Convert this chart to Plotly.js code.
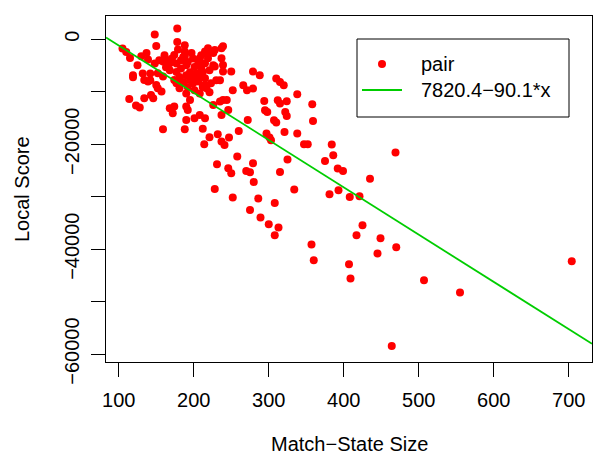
<!DOCTYPE html>
<html><head><meta charset="utf-8">
<script src="https://cdn.plot.ly/plotly-3.0.1.min.js"></script>
<style>html,body{margin:0;padding:0;background:#fff}#chart{width:600px;height:463px}</style>
</head><body><div id="chart"></div>
<script>
const matchStateSize = [178,148,178,188,150,179,105,110,115,130,137,139,125,119,119,132,142,142,148,154,161,166,159,168,174,188,188,215,219,228,237,239,208,219,237,228,239,239,250,210,279,288,210,217,226,226,230,235,252,266,279,
134,139,150,152,157,143,134,146,114,123,128,174,177,195,199,206,215,223,215,217,271,195,190,192,168,174,172,226,235,239,244,237,246,190,201,208,215,272,159,188,212,221,232,237,241,247,214,260,258,231,246,250,270,275,279,280,228,252,275,
310,315,320,338,294,295,298,312,315,324,322,324,358,359,307,310,321,338,297,301,303,347,352,384,386,375,325,315,392,399,435,334,286,308,381,393,408,421,289,300,313,308,425,417,449,445,470,357,360,407,409,507,555,464,704,469,
168,177,177,183,186,190,192,199,201,206,183,195,203,212,190,208,199,181,186,192,201,208,215,221,197,171,212,221,181,190,152,159,163];
const localScore = [2040,900,-510,-1140,-1280,-1960,-1770,-2420,-3560,-3240,-2610,-3870,-4950,-6860,-7240,-6530,-6530,-7810,-4630,-4000,-3050,-4000,-4250,-4570,-2990,-2340,-3300,-2340,-1710,-2040,-1710,-1330,-3620,-3620,-3620,-5200,-4900,-6150,-6150,-5520,-6150,-6860,-3050,-2720,-2610,-4950,-7810,-7810,-9720,-8760,-9390,
-7750,-8060,-8700,-9330,-9960,-10610,-11240,-11240,-11370,-12630,-13010,-7750,-8380,-7750,-8380,-8060,-7430,-8380,-8700,-9330,-9720,-11560,-12820,-13470,-13140,-12820,-14100,-12520,-11870,-11560,-11560,-14420,-13470,-15370,-15050,-14420,-15050,-15370,-17150,-17150,-17050,-18670,-18100,-19490,-20140,-18730,-20000,-17470,-22350,-23810,-24570,-25530,-25090,-25340,-23620,-27180,-28520,-30160,-32520,
-7490,-8130,-8760,-10480,-11750,-13530,-13850,-11620,-12250,-11810,-13850,-14610,-12380,-15560,-15430,-15870,-17660,-17960,-17960,-18730,-19240,-20000,-20000,-20060,-22100,-23180,-22920,-25280,-24630,-25090,-26570,-28630,-30350,-31180,-29530,-28770,-30040,-29910,-33970,-35240,-35870,-37340,-35430,-37340,-37910,-40820,-39620,-39110,-42100,-42860,-45590,-45910,-48250,-58430,-42290,-21580,
-5900,-6230,-4630,-4000,-3370,-4950,-4320,-3680,-5280,-4630,-5580,-6290,-6530,-6230,-6860,-7180,-7490,-7180,-8130,-9090,-9720,-10350,-4570,-5900,-2610,-3680,-9090,-10100,-9330,-10350,-6480,-7110,-5330];

const fitIntercept = 7820.4;
const fitSlope = -90.1;
const xTickVals = [100,200,300,400,500,600,700];
const yTickVals = [0,-10000,-20000,-30000,-40000,-50000,-60000];
const yTickText = ['0','','\u221220000','','\u221240000','','\u221260000'];
const legendLabels = ['pair','7820.4\u221290.1*x'];
const xTitle = 'Match\u2212State Size';
const yTitle = 'Local Score';
const xRange = [83, 731];
const yRange = [-61500, 4440];

const FONT = 'Liberation Sans, Arial, Helvetica, sans-serif';
const RED = '#FF0000', GREEN = '#00CD00';

const pts = {
  x: matchStateSize, y: localScore, type: 'scatter', mode: 'markers',
  marker: {color: RED, size: 8, line: {width: 0}}, name: legendLabels[0], hoverinfo: 'skip'
};
const fit = {
  x: xRange, y: xRange.map(v => fitIntercept + fitSlope * v), type: 'scatter', mode: 'lines',
  line: {color: GREEN, width: 1.8}, name: legendLabels[1], hoverinfo: 'skip'
};

const L = 106, R = 592, T = 16, B = 362;
const px = v => (v - L) / (R - L);
const py = v => (B - v) / (B - T);

const layout = {
  width: 600, height: 463,
  margin: {l: L, r: 600 - R, t: T, b: 463 - B},
  paper_bgcolor: '#fff', plot_bgcolor: '#fff',
  showlegend: false,
  font: {family: FONT, size: 20, color: '#000'},
  xaxis: {
    range: xRange, tickvals: xTickVals, ticks: 'outside', ticklen: 14, tickwidth: 1, tickcolor: '#000',
    showline: true, linecolor: '#000', linewidth: 1, mirror: true, showgrid: false, zeroline: false,
    tickfont: {family: FONT, size: 20, color: '#000'}, ticklabelstandoff: 6
  },
  yaxis: {
    range: yRange, tickvals: yTickVals, ticktext: yTickText, ticks: 'outside', ticklen: 14, tickwidth: 1, tickcolor: '#000',
    showline: true, linecolor: '#000', linewidth: 1, mirror: true, showgrid: false, zeroline: false,
    tickangle: -90, tickfont: {family: FONT, size: 20, color: '#000'}, ticklabelstandoff: 4
  },
  shapes: [
    {type: 'rect', xref: 'paper', yref: 'paper', x0: px(357), x1: px(569), y0: py(117), y1: py(39),
     line: {color: '#000', width: 1}, fillcolor: 'rgba(0,0,0,0)'},
    {type: 'line', xref: 'paper', yref: 'paper', x0: px(362), x1: px(402), y0: py(90), y1: py(90),
     line: {color: GREEN, width: 1.8}},
    {type: 'circle', xref: 'paper', yref: 'paper', xsizemode: 'pixel', ysizemode: 'pixel',
     xanchor: px(382), yanchor: py(64), x0: -4, x1: 4, y0: -4, y1: 4,
     fillcolor: RED, line: {width: 0}}
  ],
  annotations: [
    {xref: 'paper', yref: 'paper', x: px(419), y: py(64), xanchor: 'left', yanchor: 'middle',
     text: legendLabels[0], showarrow: false, font: {family: FONT, size: 20, color: '#000'}},
    {xref: 'paper', yref: 'paper', x: px(419), y: py(90), xanchor: 'left', yanchor: 'middle',
     text: legendLabels[1], showarrow: false, font: {family: FONT, size: 20, color: '#000'}},
    {xref: 'paper', yref: 'paper', x: 0.5, y: 0, yanchor: 'middle', xanchor: 'center', yshift: -82,
     text: xTitle, showarrow: false, font: {family: FONT, size: 20, color: '#000'}},
    {xref: 'paper', yref: 'paper', x: 0, y: 0.5, xanchor: 'center', yanchor: 'middle', xshift: -84,
     textangle: -90, text: yTitle, showarrow: false, font: {family: FONT, size: 20, color: '#000'}}
  ]
};

Plotly.newPlot('chart', [pts, fit], layout, {staticPlot: true, displayModeBar: false});
</script></body></html>
